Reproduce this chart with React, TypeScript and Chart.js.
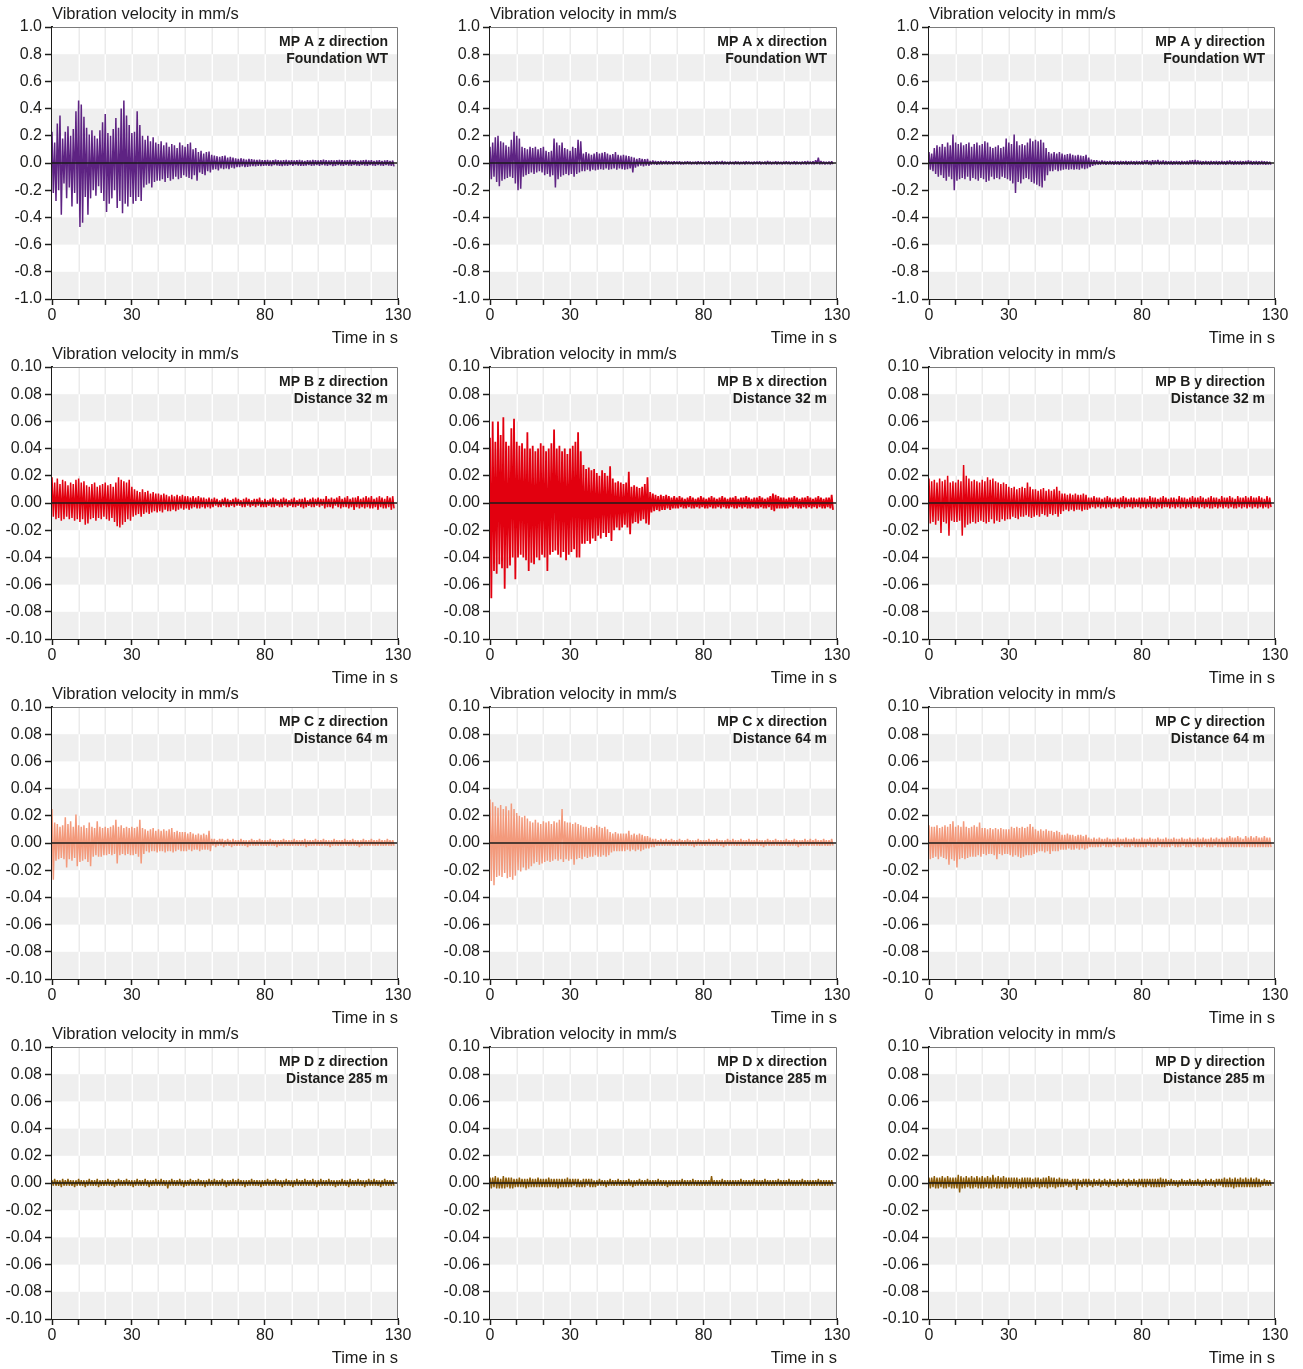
import { useEffect, useRef } from 'react';
import { Chart, registerables } from 'chart.js';

Chart.register(...registerables);

// ---------- axes ----------
const SAMPLE_STEP_S = 0.5; // time between successive samples below (s)
const X_MIN = 0;
const X_MAX = 130;
const X_STEP = 10;
const xTickLabels = [0, 30, 80, 130];
const yAxisFoundation = { min: -1, max: 1, step: 0.2, decimals: 1 };
const yAxisGround = { min: -0.1, max: 0.1, step: 0.02, decimals: 2 };
const yTitle = 'Vibration velocity in mm/s';
const xTitle = 'Time in s';

// ---------- series (peak values, µm/s, one every 0.5 s from 0 s) ----------
const mpAz = [
  230, -220, 150, -280, 290, -200, 350, -380, 180, -150, 230, -260, 270, -180, 200, -320, 250, -220, 380, -300,
  460, -470, 430, -440, 340, -250, 260, -380, 210, -260, 240, -200, 200, -240, 180, -170, 240, -220, 300, -280,
  360, -360, 220, -300, 200, -260, 250, -200, 330, -330, 260, -280, 400, -370, 460, -300, 350, -320, 280, -250,
  220, -300, 230, -280, 380, -250, 280, -280, 200, -180, 170, -160, 200, -150, 160, -180, 190, -140, 150, -130,
  140, -130, 160, -120, 130, -140, 150, -110, 120, -130, 140, -120, 130, -100, 110, -120, 150, -110, 130, -90,
  120, -100, 140, -110, 150, -120, 100, -90, 110, -130, 80, -70, 90, -80, 70, -90, 80, -60, 85, -70,
  60, -50, 55, -45, 50, -55, 45, -40, 50, -45, 55, -40, 40, -45, 45, -35, 40, -40, 35, -30,
  30, -30, 35, -25, 30, -30, 25, -28, 30, -25, 28, -22, 25, -25, 22, -20, 25, -22, 20, -20,
  20, -18, 22, -20, 18, -22, 20, -15, 25, -18, 20, -20, 18, -22, 20, -18, 22, -20, 18, -15,
  20, -20, 18, -15, 20, -18, 22, -20, 18, -20, 15, -18, 20, -15, 18, -20, 22, -18, 20, -15,
  18, -20, 20, -15, 25, -18, 20, -20, 18, -15, 20, -22, 18, -20, 20, -15, 22, -18, 20, -20,
  18, -15, 20, -18, 22, -20, 18, -15, 20, -18, 15, -20, 18, -15, 20, -18, 22, -20, 18, -15,
  20, -18, 15, -20, 18, -15, 20, -18, 15, -20, 18, -15, 20, -18, 15, -20, 18, -25,
];
const mpAx = [
  120, -120, 150, -100, 190, -140, 200, -170, 160, -130, 150, -120, 130, -110, 120, -100, 170, -110, 230, -150,
  200, -200, 180, -190, 120, -100, 110, -90, 100, -80, 120, -70, 110, -80, 120, -70, 100, -60, 110, -70,
  120, -90, 90, -80, 80, -100, 90, -90, 180, -180, 150, -120, 130, -100, 150, -90, 110, -80, 100, -90,
  90, -80, 120, -100, 110, -80, 170, -70, 160, -60, 70, -60, 80, -50, 70, -60, 60, -50, 70, -55,
  80, -50, 70, -45, 75, -50, 80, -40, 70, -50, 60, -45, 65, -40, 80, -50, 60, -40, 55, -45,
  60, -50, 55, -45, 50, -40, 45, -70, 40, -35, 30, -25, 35, -20, 30, -25, 28, -20, 30, -20,
  15, -12, 18, -10, 15, -12, 12, -10, 15, -10, 12, -8, 15, -10, 12, -8, 10, -10, 12, -8,
  10, -8, 12, -10, 8, -10, 10, -8, 12, -8, 10, -10, 8, -8, 10, -10, 12, -8, 10, -8,
  8, -10, 10, -8, 12, -10, 8, -8, 10, -10, 12, -8, 10, -8, 15, -10, 10, -8, 8, -10,
  10, -8, 8, -10, 12, -8, 10, -10, 8, -8, 10, -10, 12, -8, 10, -8, 8, -10, 10, -8,
  10, -8, 12, -10, 8, -8, 10, -10, 15, -8, 10, -10, 8, -8, 12, -10, 10, -8, 8, -10,
  10, -8, 12, -8, 10, -10, 8, -8, 12, -10, 10, -8, 8, -10, 10, -8, 12, -10, 15, -8,
  10, -8, 12, -10, 20, -8, 40, -10, 15, -8, 10, -10, 8, -8, 10, -10, 12, -8,
];
const mpAy = [
  80, -50, 70, -60, 110, -80, 130, -100, 120, -90, 140, -110, 120, -130, 150, -100, 130, -120, 210, -200,
  150, -130, 140, -120, 150, -110, 130, -120, 140, -100, 150, -130, 120, -110, 140, -120, 150, -130, 130, -110,
  140, -120, 160, -140, 150, -130, 120, -100, 110, -120, 120, -110, 130, -120, 110, -100, 120, -110, 180, -120,
  150, -130, 140, -150, 210, -220, 160, -140, 130, -150, 140, -120, 130, -110, 150, -120, 180, -140, 160, -150,
  170, -160, 160, -170, 170, -180, 150, -130, 110, -90, 80, -60, 70, -60, 80, -50, 70, -60, 80, -55,
  70, -50, 60, -45, 65, -50, 70, -45, 60, -50, 55, -45, 60, -50, 55, -40, 50, -45, 60, -40,
  40, -30, 25, -20, 20, -15, 20, -12, 15, -12, 18, -10, 15, -12, 12, -10, 15, -10, 12, -12,
  15, -10, 12, -12, 15, -10, 12, -10, 15, -12, 12, -10, 15, -10, 12, -12, 15, -10, 12, -10,
  15, -12, 18, -10, 20, -12, 15, -15, 20, -12, 18, -10, 22, -12, 15, -10, 18, -12, 15, -10,
  12, -10, 15, -12, 12, -10, 15, -10, 12, -12, 15, -10, 12, -10, 15, -12, 18, -10, 20, -12,
  22, -12, 18, -10, 15, -12, 12, -10, 15, -10, 12, -12, 15, -10, 12, -10, 15, -12, 12, -10,
  15, -10, 12, -12, 15, -10, 18, -10, 12, -12, 15, -10, 12, -10, 15, -12, 12, -10, 15, -10,
  18, -10, 15, -12, 12, -10, 15, -12, 12, -10, 15, -10, 12, -12, 10, -10, 8, -12,
];
const mpBz = [
  19, -10, 15, -12, 18, -11, 14, -13, 17, -12, 16, -10, 13, -12, 15, -11, 14, -13, 17, -12,
  18, -14, 15, -12, 16, -16, 13, -15, 12, -12, 14, -11, 15, -13, 12, -11, 13, -12, 14, -10,
  15, -12, 13, -13, 14, -11, 12, -14, 15, -17, 19, -18, 17, -16, 16, -14, 15, -12, 17, -13,
  12, -10, 10, -9, 9, -8, 8, -10, 10, -8, 8, -7, 9, -8, 7, -7, 8, -6, 7, -7,
  7, -6, 6, -7, 7, -5, 6, -6, 5, -6, 6, -5, 5, -6, 6, -5, 5, -4, 6, -5,
  5, -4, 5, -5, 4, -4, 5, -3, 4, -4, 5, -4, 4, -3, 4, -4, 3, -3, 4, -4,
  3, -3, 4, -2, 3, -3, 2, -3, 3, -2, 4, -3, 3, -3, 2, -2, 3, -3, 4, -2,
  3, -2, 2, -3, 3, -3, 4, -2, 3, -3, 2, -2, 3, -3, 3, -2, 4, -3, 2, -3,
  3, -3, 2, -2, 3, -3, 4, -3, 3, -2, 2, -3, 3, -3, 4, -2, 3, -3, 2, -2,
  3, -3, 4, -3, 2, -2, 3, -3, 3, -4, 4, -3, 2, -2, 3, -3, 4, -3, 3, -2,
  4, -3, 3, -2, 3, -4, 5, -3, 3, -3, 4, -4, 3, -2, 4, -3, 5, -4, 3, -3,
  4, -3, 5, -4, 3, -3, 4, -5, 4, -3, 5, -4, 3, -3, 4, -4, 5, -3, 4, -4,
  5, -4, 3, -3, 4, -5, 5, -3, 4, -4, 3, -4, 5, -3, 4, -5, 5, -4,
];
const mpBx = [
  48, -70, 60, -50, 45, -52, 60, -45, 50, -48, 63, -63, 45, -48, 42, -46, 55, -40, 62, -56,
  45, -40, 42, -38, 44, -40, 40, -42, 52, -50, 40, -44, 42, -45, 38, -40, 40, -42, 44, -38,
  42, -40, 38, -50, 40, -38, 44, -36, 54, -35, 40, -38, 42, -40, 38, -36, 40, -42, 36, -38,
  40, -36, 42, -34, 45, -40, 52, -40, 38, -30, 28, -30, 25, -28, 26, -30, 24, -26, 25, -28,
  22, -24, 20, -26, 24, -22, 22, -25, 20, -22, 27, -28, 18, -20, 15, -18, 16, -20, 15, -18,
  14, -16, 15, -18, 23, -23, 12, -15, 13, -14, 12, -15, 11, -13, 12, -12, 14, -15, 19, -16,
  8, -7, 7, -6, 6, -5, 5, -6, 6, -5, 5, -5, 6, -4, 5, -5, 4, -4, 5, -4,
  4, -4, 5, -3, 4, -4, 3, -4, 4, -3, 5, -4, 4, -4, 3, -3, 4, -4, 5, -3,
  4, -4, 3, -4, 4, -3, 5, -4, 4, -4, 3, -3, 4, -4, 5, -3, 4, -4, 3, -4,
  4, -3, 4, -4, 5, -4, 3, -3, 4, -4, 4, -3, 5, -4, 4, -4, 3, -3, 4, -4,
  4, -4, 5, -3, 4, -4, 3, -4, 4, -3, 5, -5, 7, -6, 6, -4, 5, -4, 4, -4,
  4, -4, 3, -4, 4, -3, 4, -4, 5, -3, 4, -4, 3, -4, 4, -3, 4, -4, 5, -3,
  4, -4, 3, -3, 4, -4, 5, -3, 4, -4, 3, -4, 4, -3, 4, -4, 6, -5,
];
const mpBy = [
  18, -15, 16, -14, 17, -16, 15, -13, 18, -22, 16, -14, 17, -15, 20, -24, 15, -13, 16, -14,
  15, -14, 17, -13, 16, -24, 28, -18, 20, -16, 18, -15, 16, -14, 17, -15, 16, -14, 15, -13,
  17, -14, 16, -15, 19, -14, 17, -12, 18, -15, 16, -13, 15, -14, 14, -12, 15, -13, 14, -12,
  12, -12, 11, -10, 12, -11, 10, -12, 11, -10, 12, -10, 11, -9, 15, -10, 12, -11, 10, -10,
  10, -9, 9, -10, 10, -8, 11, -9, 9, -10, 10, -8, 9, -9, 10, -8, 12, -10, 9, -8,
  7, -6, 7, -5, 6, -6, 7, -5, 6, -6, 7, -5, 6, -5, 6, -6, 7, -5, 6, -5,
  4, -4, 4, -3, 5, -4, 4, -3, 4, -4, 3, -3, 4, -4, 5, -3, 4, -4, 3, -3,
  4, -3, 3, -4, 4, -3, 5, -4, 4, -3, 3, -3, 4, -4, 4, -3, 3, -3, 4, -4,
  4, -3, 4, -4, 3, -3, 5, -4, 4, -3, 4, -4, 3, -3, 4, -4, 5, -3, 4, -3,
  3, -4, 4, -3, 4, -4, 3, -3, 5, -4, 4, -3, 4, -4, 3, -3, 4, -4, 5, -3,
  4, -3, 4, -4, 5, -3, 4, -4, 3, -3, 4, -4, 5, -4, 4, -3, 4, -4, 3, -3,
  5, -4, 4, -3, 4, -4, 5, -3, 4, -4, 3, -4, 5, -3, 4, -4, 4, -3, 5, -4,
  4, -3, 5, -4, 4, -3, 4, -4, 5, -3, 4, -4, 3, -3, 5, -4, 4, -3,
];
const mpCz = [
  25, -27, 15, -13, 14, -12, 12, -11, 13, -12, 19, -18, 14, -12, 16, -13, 12, -11, 21, -17,
  13, -14, 12, -13, 13, -12, 11, -14, 15, -17, 12, -10, 11, -9, 16, -10, 12, -10, 11, -9,
  12, -9, 11, -8, 12, -9, 13, -8, 17, -15, 12, -9, 13, -8, 11, -9, 12, -8, 11, -9,
  12, -9, 11, -8, 12, -10, 17, -15, 11, -8, 10, -6, 9, -7, 10, -6, 11, -6, 9, -7,
  10, -6, 9, -6, 10, -7, 9, -6, 10, -6, 11, -7, 8, -6, 9, -5, 8, -6, 8, -6,
  8, -6, 7, -5, 8, -6, 7, -5, 6, -5, 7, -6, 6, -5, 7, -5, 6, -5, 9, -6,
  3, -2, 3, -3, 2, -2, 3, -2, 3, -3, 2, -2, 3, -2, 2, -3, 3, -2, 2, -2,
  2, -2, 3, -2, 2, -2, 2, -3, 2, -2, 3, -2, 2, -2, 2, -2, 3, -2, 2, -2,
  2, -2, 2, -2, 3, -2, 2, -2, 2, -3, 2, -2, 2, -2, 3, -2, 2, -2, 2, -2,
  2, -2, 3, -2, 2, -2, 2, -2, 2, -2, 3, -3, 2, -2, 2, -2, 2, -2, 3, -2,
  2, -2, 2, -2, 3, -2, 2, -2, 2, -3, 2, -2, 3, -2, 2, -2, 2, -2, 2, -2,
  3, -2, 2, -2, 2, -2, 3, -2, 2, -2, 2, -3, 2, -2, 3, -2, 2, -2, 2, -2,
  3, -2, 2, -2, 2, -2, 3, -2, 2, -2, 2, -2, 3, -2, 2, -2, 2, -2,
];
const mpCx = [
  32, -28, 30, -31, 27, -25, 26, -24, 28, -25, 25, -22, 27, -26, 24, -25, 29, -27, 25, -24,
  22, -20, 20, -21, 19, -18, 20, -20, 18, -19, 16, -17, 15, -15, 17, -14, 15, -16, 14, -15,
  16, -14, 15, -13, 16, -14, 14, -13, 16, -12, 15, -13, 17, -12, 25, -14, 16, -12, 15, -13,
  15, -12, 14, -16, 15, -12, 14, -11, 13, -12, 12, -10, 12, -11, 11, -10, 12, -10, 11, -9,
  13, -10, 12, -10, 11, -9, 12, -10, 10, -9, 8, -7, 7, -6, 8, -6, 7, -6, 7, -6,
  7, -6, 7, -5, 9, -6, 6, -5, 7, -6, 6, -5, 7, -6, 6, -5, 5, -4, 5, -4,
  4, -3, 3, -3, 3, -2, 2, -2, 3, -2, 2, -2, 3, -2, 2, -2, 3, -2, 2, -2,
  2, -2, 3, -2, 2, -2, 2, -2, 3, -2, 2, -2, 2, -3, 2, -2, 3, -2, 2, -2,
  2, -2, 2, -2, 3, -2, 2, -2, 2, -2, 3, -2, 2, -2, 2, -3, 2, -2, 3, -2,
  2, -2, 3, -2, 2, -2, 2, -2, 3, -2, 2, -2, 2, -2, 3, -2, 2, -2, 2, -2,
  3, -2, 2, -2, 2, -3, 2, -2, 3, -2, 2, -2, 2, -2, 3, -2, 2, -2, 2, -2,
  2, -2, 3, -2, 2, -2, 2, -2, 3, -2, 2, -3, 2, -2, 2, -2, 3, -2, 2, -2,
  3, -2, 2, -2, 3, -2, 2, -2, 2, -2, 3, -2, 2, -2, 2, -2, 3, -2,
];
const mpCy = [
  13, -12, 12, -11, 12, -10, 13, -12, 11, -10, 12, -11, 13, -12, 12, -16, 14, -12, 16, -13,
  12, -18, 13, -12, 12, -11, 16, -12, 12, -11, 11, -10, 12, -10, 13, -10, 12, -9, 15, -10,
  11, -8, 11, -9, 10, -8, 11, -8, 10, -9, 11, -12, 10, -8, 11, -9, 10, -8, 10, -8,
  10, -9, 12, -10, 11, -9, 12, -10, 11, -11, 12, -10, 11, -9, 12, -9, 14, -9, 12, -8,
  10, -7, 9, -6, 10, -6, 9, -7, 10, -6, 9, -8, 9, -6, 8, -6, 9, -6, 8, -5,
  6, -5, 6, -5, 7, -4, 6, -5, 6, -5, 5, -4, 6, -5, 6, -4, 5, -5, 6, -4,
  4, -3, 3, -3, 4, -3, 3, -3, 4, -3, 3, -2, 3, -3, 4, -3, 3, -3, 3, -2,
  3, -3, 4, -3, 3, -2, 3, -3, 4, -3, 3, -3, 3, -2, 4, -3, 3, -3, 3, -3,
  4, -3, 3, -3, 3, -2, 4, -3, 3, -3, 3, -3, 4, -2, 3, -3, 3, -3, 4, -3,
  3, -3, 3, -2, 4, -3, 3, -3, 3, -3, 4, -2, 3, -3, 3, -3, 4, -3, 3, -2,
  3, -3, 4, -3, 3, -3, 4, -2, 3, -3, 3, -3, 4, -3, 3, -2, 4, -3, 3, -3,
  4, -3, 3, -3, 4, -3, 5, -3, 4, -3, 4, -3, 5, -3, 4, -3, 3, -3, 5, -3,
  4, -3, 5, -3, 4, -3, 5, -3, 4, -3, 4, -3, 5, -3, 4, -3, 4, -3,
];
const mpDz = [
  2, -2, 3, -2, 2, -2, 2, -3, 3, -2, 2, -2, 3, -2, 2, -2, 2, -3, 2, -2,
  3, -2, 2, -2, 2, -3, 2, -2, 3, -2, 2, -2, 2, -2, 3, -3, 2, -2, 2, -2,
  2, -2, 3, -2, 2, -2, 2, -3, 2, -2, 3, -2, 2, -2, 2, -2, 3, -2, 2, -2,
  2, -3, 2, -2, 3, -2, 2, -2, 2, -2, 3, -2, 2, -3, 2, -2, 2, -2, 3, -2,
  2, -2, 3, -2, 2, -2, 2, -4, 2, -2, 3, -2, 2, -2, 2, -2, 3, -2, 2, -3,
  2, -2, 2, -2, 3, -2, 2, -2, 2, -2, 3, -2, 2, -2, 2, -3, 2, -2, 3, -2,
  2, -2, 3, -2, 2, -2, 2, -2, 3, -2, 2, -3, 2, -2, 2, -2, 3, -2, 2, -2,
  3, -2, 2, -2, 2, -3, 2, -2, 2, -2, 3, -2, 2, -2, 2, -2, 2, -3, 2, -2,
  2, -2, 3, -2, 2, -2, 2, -2, 3, -2, 2, -2, 2, -3, 2, -2, 3, -2, 2, -2,
  2, -3, 2, -2, 3, -2, 2, -2, 2, -2, 3, -2, 2, -2, 2, -2, 3, -2, 2, -3,
  2, -2, 3, -2, 2, -2, 2, -2, 3, -2, 2, -2, 2, -3, 2, -2, 2, -2, 3, -2,
  2, -2, 2, -3, 3, -2, 2, -2, 2, -2, 3, -2, 2, -2, 2, -3, 2, -2, 3, -2,
  2, -2, 3, -2, 2, -2, 2, -3, 2, -2, 3, -2, 2, -2, 2, -2, 2, -2,
];
const mpDx = [
  4, -4, 4, -3, 5, -4, 4, -4, 3, -4, 5, -4, 4, -3, 4, -4, 4, -4, 3, -3,
  3, -3, 4, -3, 3, -3, 3, -4, 3, -3, 4, -3, 3, -3, 3, -3, 4, -3, 3, -3,
  3, -3, 3, -3, 4, -3, 3, -3, 3, -3, 3, -4, 3, -3, 3, -3, 3, -3, 4, -3,
  3, -3, 3, -2, 3, -3, 3, -3, 2, -3, 3, -3, 3, -2, 3, -3, 3, -3, 2, -3,
  2, -2, 3, -2, 2, -2, 2, -3, 2, -2, 3, -2, 2, -2, 2, -2, 3, -2, 2, -2,
  2, -2, 2, -2, 3, -2, 2, -3, 2, -2, 2, -2, 3, -2, 2, -2, 2, -2, 3, -2,
  2, -2, 2, -2, 2, -2, 3, -2, 2, -2, 2, -2, 2, -3, 2, -2, 2, -2, 2, -2,
  2, -2, 2, -2, 3, -2, 2, -2, 2, -2, 2, -2, 3, -2, 2, -2, 2, -2, 2, -2,
  2, -2, 2, -2, 2, -2, 5, -2, 2, -2, 2, -2, 2, -2, 3, -2, 2, -2, 2, -2,
  2, -2, 2, -2, 2, -2, 2, -2, 3, -2, 2, -2, 2, -2, 2, -2, 2, -2, 3, -2,
  2, -2, 2, -2, 2, -2, 3, -2, 2, -2, 2, -2, 2, -2, 2, -2, 3, -2, 2, -2,
  2, -2, 2, -2, 3, -2, 2, -2, 2, -2, 2, -2, 2, -2, 3, -2, 2, -2, 2, -2,
  2, -2, 2, -2, 2, -2, 3, -2, 2, -2, 2, -2, 2, -2, 2, -2, 2, -2,
];
const mpDy = [
  4, -4, 4, -3, 5, -4, 4, -4, 4, -3, 5, -4, 4, -4, 5, -3, 4, -4, 4, -4,
  4, -4, 6, -7, 5, -4, 4, -4, 5, -3, 4, -4, 5, -4, 4, -3, 5, -4, 4, -4,
  5, -4, 4, -3, 5, -4, 4, -4, 6, -3, 4, -4, 5, -4, 4, -3, 5, -4, 4, -4,
  4, -3, 4, -4, 4, -3, 4, -4, 3, -4, 4, -3, 4, -4, 4, -3, 4, -4, 3, -3,
  4, -3, 4, -4, 3, -3, 4, -3, 4, -4, 5, -3, 4, -3, 4, -4, 3, -3, 4, -3,
  3, -3, 3, -2, 3, -3, 2, -3, 3, -2, 3, -5, 3, -2, 2, -3, 3, -2, 3, -3,
  3, -2, 2, -3, 3, -2, 2, -2, 3, -3, 2, -2, 3, -2, 2, -3, 3, -2, 2, -2,
  2, -3, 3, -2, 2, -2, 3, -2, 2, -3, 3, -2, 2, -2, 3, -2, 2, -3, 3, -2,
  3, -3, 3, -3, 3, -2, 3, -3, 3, -3, 3, -3, 3, -3, 4, -3, 3, -3, 3, -2,
  2, -2, 3, -2, 2, -2, 2, -3, 2, -2, 3, -2, 2, -2, 2, -2, 3, -2, 2, -2,
  2, -2, 3, -2, 2, -3, 2, -2, 3, -2, 2, -2, 3, -2, 2, -3, 3, -2, 3, -2,
  3, -3, 4, -3, 3, -3, 4, -3, 3, -4, 4, -3, 3, -3, 4, -3, 3, -3, 4, -3,
  3, -3, 4, -3, 3, -3, 4, -3, 3, -3, 2, -2, 3, -2, 2, -2, 2, -2,
];

// ---------- panel labels & colours ----------
const colorA = '#5e2383';
const colorB = '#e2000f';
const colorC = '#f39a7c';
const colorD = '#8a5a05';

type PanelCfg = {
  values: number[];
  color: string;
  width: number;
  label: [string, string];
  row: number;
  col: number;
  axis: { min: number; max: number; step: number; decimals: number };
};

const panels: PanelCfg[] = [
  { values: mpAz, color: colorA, width: 1.5, label: ['MP A z direction', 'Foundation WT'], row: 0, col: 0, axis: yAxisFoundation },
  { values: mpAx, color: colorA, width: 1.5, label: ['MP A x direction', 'Foundation WT'], row: 0, col: 1, axis: yAxisFoundation },
  { values: mpAy, color: colorA, width: 1.5, label: ['MP A y direction', 'Foundation WT'], row: 0, col: 2, axis: yAxisFoundation },
  { values: mpBz, color: colorB, width: 1.5, label: ['MP B z direction', 'Distance 32 m'], row: 1, col: 0, axis: yAxisGround },
  { values: mpBx, color: colorB, width: 1.8, label: ['MP B x direction', 'Distance 32 m'], row: 1, col: 1, axis: yAxisGround },
  { values: mpBy, color: colorB, width: 1.5, label: ['MP B y direction', 'Distance 32 m'], row: 1, col: 2, axis: yAxisGround },
  { values: mpCz, color: colorC, width: 1.5, label: ['MP C z direction', 'Distance 64 m'], row: 2, col: 0, axis: yAxisGround },
  { values: mpCx, color: colorC, width: 1.5, label: ['MP C x direction', 'Distance 64 m'], row: 2, col: 1, axis: yAxisGround },
  { values: mpCy, color: colorC, width: 1.5, label: ['MP C y direction', 'Distance 64 m'], row: 2, col: 2, axis: yAxisGround },
  { values: mpDz, color: colorD, width: 1.4, label: ['MP D z direction', 'Distance 285 m'], row: 3, col: 0, axis: yAxisGround },
  { values: mpDx, color: colorD, width: 1.4, label: ['MP D x direction', 'Distance 285 m'], row: 3, col: 1, axis: yAxisGround },
  { values: mpDy, color: colorD, width: 1.4, label: ['MP D y direction', 'Distance 285 m'], row: 3, col: 2, axis: yAxisGround },
];

// ---------- layout ----------
const PLOT_LEFT = [52, 490, 929];
const PLOT_W = [346, 347, 346];
const PLOT_TOP = [27, 367, 707, 1047];
const PLOT_H = 272;
const AXIS_W = 52;
const TOP_PAD = 27;
const CANVAS_W = 422;
const CANVAS_H = 352;

const FONT = '"Liberation Sans", Arial, Helvetica, sans-serif';
const TEXT = '#1d1d1b';
const BAND = '#efefef';

function Panel({ cfg }: { cfg: PanelCfg }) {
  const ref = useRef<HTMLCanvasElement>(null);
  const left = PLOT_LEFT[cfg.col] - AXIS_W;
  const top = PLOT_TOP[cfg.row] - TOP_PAD;
  const plotW = PLOT_W[cfg.col];

  useEffect(() => {
    const canvas = ref.current;
    if (!canvas) return;
    const { min, max, step, decimals } = cfg.axis;
    const points = cfg.values.map((v, i) => ({ x: i * SAMPLE_STEP_S, y: v / 1000 }));

    const backdrop = {
      id: 'backdrop',
      beforeDatasetsDraw(chart: any) {
        const { ctx, chartArea: a, scales } = chart;
        const ys = scales.y;
        const xs = scales.x;
        ctx.save();
        ctx.fillStyle = '#ffffff';
        ctx.fillRect(a.left, a.top, a.right - a.left, a.bottom - a.top);
        const nBands = Math.round((max - min) / step);
        const greyBands: [number, number][] = [];
        for (let k = 0; k < nBands; k++) {
          if (k % 2 === 1) {
            const hi = max - k * step;
            const lo = hi - step;
            const y1 = ys.getPixelForValue(hi);
            const y2 = ys.getPixelForValue(lo);
            greyBands.push([y1, y2]);
            ctx.fillStyle = BAND;
            ctx.fillRect(a.left, y1, a.right - a.left, y2 - y1);
          }
        }
        ctx.lineWidth = 1.5;
        for (let t = X_MIN + X_STEP; t < X_MAX; t += X_STEP) {
          const px = Math.round(xs.getPixelForValue(t)) + 0.25;
          ctx.strokeStyle = '#ebebeb';
          ctx.beginPath();
          ctx.moveTo(px, a.top);
          ctx.lineTo(px, a.bottom);
          ctx.stroke();
          ctx.strokeStyle = '#ffffff';
          for (const [y1, y2] of greyBands) {
            ctx.beginPath();
            ctx.moveTo(px, y1);
            ctx.lineTo(px, y2);
            ctx.stroke();
          }
        }
        ctx.restore();
      },
      afterDatasetsDraw(chart: any) {
        const { ctx, chartArea: a, scales } = chart;
        const y0 = scales.y.getPixelForValue(0);
        ctx.save();
        // zero line
        ctx.strokeStyle = '#1d1d1b';
        ctx.lineWidth = 1.5;
        ctx.beginPath();
        ctx.moveTo(a.left, y0);
        ctx.lineTo(a.right, y0);
        ctx.stroke();
        // top & right frame
        ctx.strokeStyle = '#7a7a7a';
        ctx.lineWidth = 1;
        ctx.beginPath();
        ctx.moveTo(a.left, a.top + 0.5);
        ctx.lineTo(a.right - 0.5, a.top + 0.5);
        ctx.lineTo(a.right - 0.5, a.bottom);
        ctx.stroke();
        // panel label
        ctx.fillStyle = TEXT;
        ctx.font = `bold 14px ${FONT}`;
        ctx.textAlign = 'right';
        ctx.textBaseline = 'middle';
        ctx.fillText(cfg.label[0], a.right - 10, a.top + 15.5);
        ctx.fillText(cfg.label[1], a.right - 10, a.top + 32);
        // axis titles
        ctx.font = `16.5px ${FONT}`;
        ctx.textAlign = 'left';
        ctx.fillText(yTitle, a.left, a.top - 12.5);
        ctx.textAlign = 'right';
        ctx.fillText(xTitle, a.right, a.bottom + 39);
        ctx.restore();
      },
    };

    const chart = new Chart(canvas, {
      type: 'line',
      data: {
        datasets: [
          {
            data: points,
            borderColor: cfg.color,
            borderWidth: cfg.width,
            borderJoinStyle: 'bevel',
            borderCapStyle: 'butt',
            pointRadius: 0,
            tension: 0,
            fill: false,
          },
        ],
      },
      options: {
        animation: false,
        responsive: false,
        devicePixelRatio: 1,
        events: [],
        layout: { padding: { top: TOP_PAD, left: 0, bottom: 0, right: CANVAS_W - AXIS_W - plotW } },
        plugins: { legend: { display: false }, tooltip: { enabled: false }, title: { display: false } },
        scales: {
          x: {
            type: 'linear',
            min: X_MIN,
            max: X_MAX,
            afterFit(scale: any) {
              scale.height = CANVAS_H - TOP_PAD - PLOT_H;
            },
            afterBuildTicks(scale: any) {
              const ticks = [];
              for (let t = X_MIN; t <= X_MAX; t += X_STEP) ticks.push({ value: t });
              scale.ticks = ticks;
            },
            ticks: {
              autoSkip: false,
              maxRotation: 0,
              padding: 1,
              color: TEXT,
              font: { family: FONT, size: 16 },
              callback: (v: any) => (xTickLabels.includes(Number(v)) ? String(v) : ''),
            },
            grid: { drawOnChartArea: false, drawTicks: true, tickLength: 6, tickColor: '#1d1d1b', tickWidth: 1.5 },
            border: { display: true, color: '#1d1d1b', width: 2 },
          },
          y: {
            type: 'linear',
            min,
            max,
            afterFit(scale: any) {
              scale.width = AXIS_W;
            },
            afterBuildTicks(scale: any) {
              const n = Math.round((max - min) / step);
              const ticks = [];
              for (let k = 0; k <= n; k++) ticks.push({ value: min + k * step });
              scale.ticks = ticks;
            },
            ticks: {
              autoSkip: false,
              padding: 3,
              color: TEXT,
              font: { family: FONT, size: 16 },
              callback: (v: any) => {
                const n = Math.abs(Number(v)) < 1e-9 ? 0 : Number(v);
                return n.toFixed(decimals);
              },
            },
            grid: { drawOnChartArea: false, drawTicks: true, tickLength: 7, tickColor: '#1d1d1b', tickWidth: 1.5 },
            border: { display: true, color: '#1d1d1b', width: 2 },
          },
        },
      },
      plugins: [backdrop],
    } as any);
    return () => chart.destroy();
  }, [cfg, plotW]);

  return (
    <canvas
      ref={ref}
      width={CANVAS_W}
      height={CANVAS_H}
      style={{ position: 'absolute', left, top, width: CANVAS_W, height: CANVAS_H, display: 'block' }}
    />
  );
}

export default function App() {
  return (
    <div style={{ position: 'absolute', left: 0, top: 0, width: 1303, height: 1369, background: '#ffffff' }}>
      {panels.map((p, i) => (
        <Panel key={i} cfg={p} />
      ))}
    </div>
  );
}
